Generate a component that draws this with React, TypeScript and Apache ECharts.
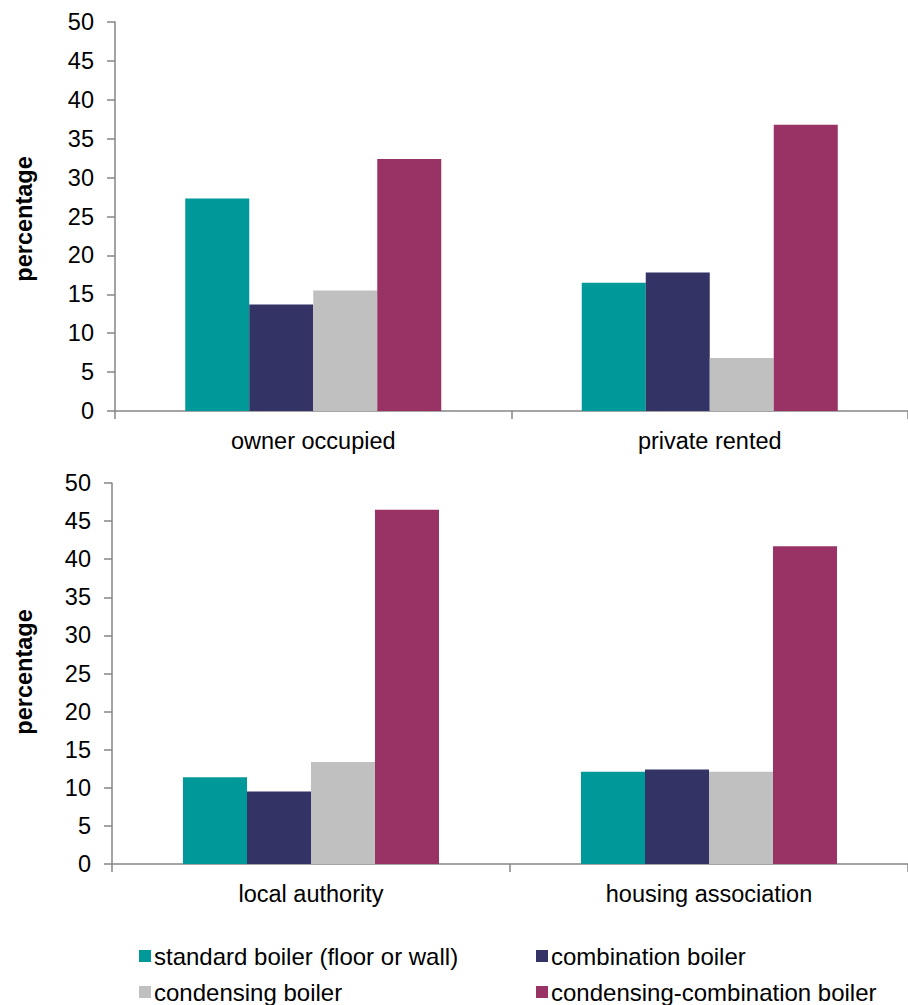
import React, { useEffect, useRef } from "react";
import * as echarts from "echarts";

const topCategories = ["owner occupied", "private rented"];
const bottomCategories = ["local authority", "housing association"];
const seriesNames = [
  "standard boiler (floor or wall)",
  "combination boiler",
  "condensing boiler",
  "condensing-combination boiler",
];
const seriesColors = ["#009999", "#333366", "#C0C0C0", "#993366"];
// values per series: [top-left, top-right]
const topStandard = [27.3, 16.5];
const topCombination = [13.7, 17.8];
const topCondensing = [15.5, 6.8];
const topCondCombi = [32.4, 36.8];
// values per series: [bottom-left, bottom-right]
const bottomStandard = [11.4, 12.1];
const bottomCombination = [9.5, 12.4];
const bottomCondensing = [13.4, 12.1];
const bottomCondCombi = [46.5, 41.7];
const yMin = 0;
const yMax = 50;
const yInterval = 5;

const AXIS_COLOR = "#868686";
const FONT = "'Liberation Sans', Arial, sans-serif";

export default function App() {
  const ref = useRef<HTMLDivElement>(null);
  useEffect(() => {
    if (!ref.current) return;
    const chart = echarts.init(ref.current, undefined, { renderer: "svg" });
    const topData = [topStandard, topCombination, topCondensing, topCondCombi];
    const bottomData = [bottomStandard, bottomCombination, bottomCondensing, bottomCondCombi];

    const xAxisBase = (cats: string[], gridIndex: number) => ({
      type: "category",
      gridIndex,
      data: cats,
      axisLine: { show: true, lineStyle: { color: AXIS_COLOR, width: 1.5 } },
      axisTick: { show: true, length: 8, alignWithLabel: false, lineStyle: { color: AXIS_COLOR, width: 1.5 } },
      axisLabel: { color: "#000", fontSize: 23.5, fontFamily: FONT, margin: 18 },
      splitLine: { show: false },
    });
    const yAxisBase = (gridIndex: number) => ({
      type: "value",
      gridIndex,
      min: yMin,
      max: yMax,
      interval: yInterval,
      axisLine: { show: true, lineStyle: { color: AXIS_COLOR, width: 1.5 } },
      axisTick: { show: true, length: 8, lineStyle: { color: AXIS_COLOR, width: 1.5 } },
      axisLabel: { color: "#000", fontSize: 23.5, fontFamily: FONT, margin: 21 },
      splitLine: { show: false },
    });

    const series: any[] = [];
    seriesNames.forEach((name, i) => {
      series.push({
        type: "bar",
        name,
        xAxisIndex: 0,
        yAxisIndex: 0,
        data: topData[i],
        barWidth: 64,
        barGap: "0%",
        itemStyle: { color: seriesColors[i] },
      });
      series.push({
        type: "bar",
        name,
        xAxisIndex: 1,
        yAxisIndex: 1,
        data: bottomData[i],
        barWidth: 64,
        barGap: "0%",
        itemStyle: { color: seriesColors[i] },
      });
    });

    const legendPos = [
      { left: 139, top: 944 },
      { left: 536, top: 944 },
      { left: 139, top: 980 },
      { left: 536, top: 980 },
    ];
    const legends = seriesNames.map((name, i) => ({
      data: [name],
      left: legendPos[i].left,
      top: legendPos[i].top,
      icon: "rect",
      itemWidth: 12,
      itemHeight: 12,
      itemGap: 0,
      padding: 0,
      selectedMode: false,
      textStyle: { color: "#000", fontSize: 24, fontFamily: FONT, padding: [0, 0, 0, -2] },
    }));

    chart.setOption({
      animation: false,
      backgroundColor: "#fff",
      grid: [
        { left: 115, top: 22, width: 798, height: 389 },
        { left: 112, top: 483, width: 796, height: 381 },
      ],
      xAxis: [xAxisBase(topCategories, 0), xAxisBase(bottomCategories, 1)],
      yAxis: [yAxisBase(0), yAxisBase(1)],
      legend: legends,
      series,
      graphic: [
        {
          type: "text",
          x: 24,
          y: 219,
          rotation: Math.PI / 2,
          style: {
            text: "percentage",
            fill: "#000",
            font: `bold 23.5px ${FONT}`,
            textAlign: "center",
            textVerticalAlign: "middle",
          },
        },
        {
          type: "text",
          x: 24,
          y: 672,
          rotation: Math.PI / 2,
          style: {
            text: "percentage",
            fill: "#000",
            font: `bold 23.5px ${FONT}`,
            textAlign: "center",
            textVerticalAlign: "middle",
          },
        },
      ],
    });
    return () => chart.dispose();
  }, []);
  return (
    <div
      ref={ref}
      style={{ position: "absolute", left: 0, top: 0, width: 908, height: 1005 }}
    />
  );
}
